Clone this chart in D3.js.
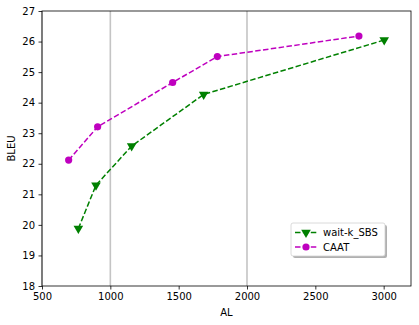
<!DOCTYPE html>
<html>
<head>
<meta charset="utf-8">
<script src="https://cdn.jsdelivr.net/npm/d3@7"></script>
<style>
  body { margin: 0; background: #fff; }
  text { font-family: "DejaVu Sans", sans-serif; }
</style>
</head>
<body>
<svg id="plot"></svg>
<script>
// data
const waitkAL = [766, 895, 1156, 1683, 3004];
const waitkBLEU = [19.88, 21.30, 22.58, 24.27, 26.05];
const caatAL = [695, 907, 1456, 1783, 2819];
const caatBLEU = [22.12, 23.21, 24.66, 25.51, 26.18];
const xTicks = [500, 1000, 1500, 2000, 2500, 3000];
const yTicks = [18, 19, 20, 21, 22, 23, 24, 25, 26, 27];
const vLines = [500, 1000, 2000];

const svg = d3.select("#plot")
    .attr("width", 419)
    .attr("height", 325);
const margin = { top: 11, right: 8, bottom: 39, left: 42 };
const width = 419 - margin.left - margin.right;
const height = 325 - margin.top - margin.bottom;

const x = d3.scaleLinear().domain([500, 3200]).range([0, width]);
const y = d3.scaleLinear().domain([18, 27]).range([height, 0]);

const g = svg.append("g")
    .attr("transform", `translate(${margin.left},${margin.top})`);

// vertical reference lines
g.selectAll(".vline")
    .data(vLines)
    .enter().append("line")
    .attr("class", "vline")
    .attr("x1", d => x(d)).attr("x2", d => x(d))
    .attr("y1", 0).attr("y2", height)
    .attr("stroke", "#c4c4c4")
    .attr("stroke-width", 1.6);

// axes
const xAxis = g.append("g")
    .attr("transform", `translate(0,${height})`)
    .call(d3.axisBottom(x).tickValues(xTicks).tickFormat(d3.format("d"))
        .tickSize(3.5).tickPadding(3.5));
const yAxis = g.append("g")
    .call(d3.axisLeft(y).tickValues(yTicks).tickFormat(d3.format("d"))
        .tickSize(3.5).tickPadding(3.5));
[xAxis, yAxis].forEach(a => {
    a.selectAll("text").attr("font-size", 10).attr("fill", "#000");
    a.selectAll("line").attr("stroke", "#000").attr("stroke-width", 0.8);
    a.select(".domain").remove();
});

// frame
g.append("rect")
    .attr("width", width).attr("height", height)
    .attr("fill", "none")
    .attr("stroke", "#000")
    .attr("stroke-width", 0.8);

// labels
svg.append("text")
    .attr("x", margin.left + width / 2)
    .attr("y", 316)
    .attr("text-anchor", "middle")
    .attr("font-size", 10)
    .text("AL");
svg.append("text")
    .attr("transform", `translate(15,${margin.top + height / 2}) rotate(-90)`)
    .attr("text-anchor", "middle")
    .attr("font-size", 10)
    .text("BLEU");

const series = [
    { name: "wait-k_SBS", xs: waitkAL, ys: waitkBLEU, color: "#008000", marker: "tri" },
    { name: "CAAT", xs: caatAL, ys: caatBLEU, color: "#bf00bf", marker: "circle" }
];

const tri = d3.symbol().type(d3.symbolTriangle).size(40);
function drawMarker(sel, s, px, py) {
    if (s.marker === "circle") {
        sel.append("circle")
            .attr("cx", px).attr("cy", py).attr("r", 3.6)
            .attr("fill", s.color);
    } else {
        sel.append("path")
            .attr("d", tri())
            .attr("transform", `translate(${px},${py}) rotate(180)`)
            .attr("fill", s.color);
    }
}

const line = d3.line();
series.forEach(s => {
    const pts = s.xs.map((v, i) => [x(v), y(s.ys[i])]);
    g.append("path")
        .attr("d", line(pts))
        .attr("fill", "none")
        .attr("stroke", s.color)
        .attr("stroke-width", 1.5)
        .attr("stroke-dasharray", "5.5,2.4");
    pts.forEach(p => drawMarker(g, s, p[0], p[1]));
});

// legend
const lg = svg.append("g").attr("transform", "translate(291,223)");
lg.append("rect")
    .attr("x", 2).attr("y", 2)
    .attr("width", 94).attr("height", 33)
    .attr("rx", 2)
    .attr("fill", "#b0b0b0");
lg.append("rect")
    .attr("width", 94).attr("height", 33)
    .attr("rx", 2)
    .attr("fill", "#fff")
    .attr("stroke", "#d0d0d0")
    .attr("stroke-width", 0.8);
series.forEach((s, i) => {
    const ly = 9.5 + i * 14.5;
    lg.append("line")
        .attr("x1", 4).attr("x2", 26)
        .attr("y1", ly).attr("y2", ly)
        .attr("stroke", s.color)
        .attr("stroke-width", 1.5)
        .attr("stroke-dasharray", "5.5,2.4");
    drawMarker(lg, s, 15, ly);
    lg.append("text")
        .attr("x", 32).attr("y", ly + 3.5)
        .attr("font-size", 10)
        .text(s.name);
});
</script>
</body>
</html>
